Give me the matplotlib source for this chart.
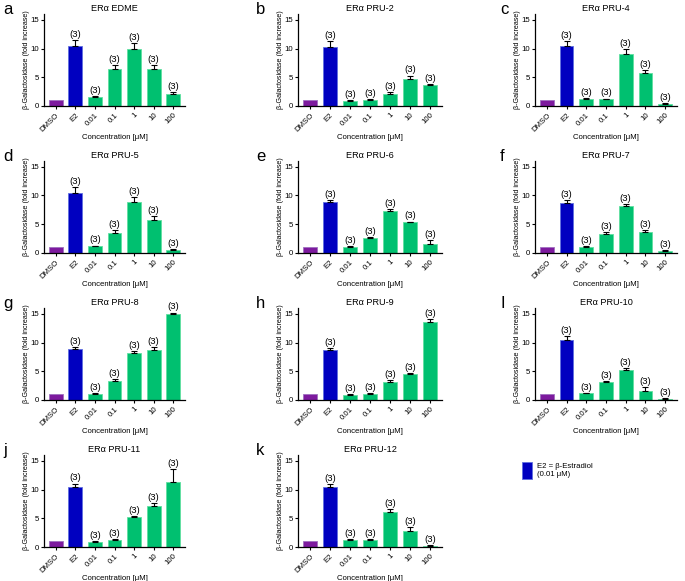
import numpy as np
import matplotlib
matplotlib.use("Agg")
import matplotlib.pyplot as plt

plt.rcParams['font.family'] = ['Liberation Sans', 'DejaVu Sans']

categories = ["DMSO", "E2", "0.01", "0.1", "1", "10", "100"]
n_label = "(3)"

letters = ["a", "b", "c", "d", "e", "f", "g", "h", "I", "j", "k"]
titles = ["ERα EDME", "ERα PRU-2", "ERα PRU-4", "ERα PRU-5", "ERα PRU-6",
          "ERα PRU-7", "ERα PRU-8", "ERα PRU-9", "ERα PRU-10",
          "ERα PRU-11", "ERα PRU-12"]

means_a = [1, 10.4, 1.5, 6.4, 9.9, 6.5, 2.1]
errs_a = [0, 1.0, 0.2, 0.7, 1.0, 0.65, 0.25]
means_b = [1, 10.3, 0.9, 1.07, 2.05, 4.75, 3.6]
errs_b = [0, 1.0, 0.1, 0.15, 0.3, 0.55, 0.25]
means_c = [1, 10.4, 1.3, 1.14, 9.0, 5.7, 0.28]
errs_c = [0, 0.95, 0.13, 0.15, 0.9, 0.5, 0.17]
means_d = [1, 10.35, 1.15, 3.5, 8.8, 5.8, 0.46]
errs_d = [0, 1.05, 0.15, 0.45, 0.95, 0.58, 0.22]
means_e = [1, 8.8, 1.09, 2.6, 7.36, 5.34, 1.6]
errs_e = [0, 0.45, 0.1, 0.2, 0.25, 0.12, 0.7]
means_f = [1, 8.75, 1.08, 3.3, 8.1, 3.7, 0.4]
errs_f = [0, 0.45, 0.12, 0.3, 0.45, 0.35, 0.17]
means_g = [1, 8.84, 1.05, 3.26, 8.14, 8.78, 14.94]
errs_g = [0, 0.35, 0.1, 0.34, 0.35, 0.4, 0.26]
means_h = [1, 8.77, 0.92, 1.1, 3.1, 4.44, 13.5]
errs_h = [0, 0.33, 0.08, 0.17, 0.36, 0.3, 0.6]
means_i = [1, 10.5, 1.15, 3.1, 5.14, 1.6, 0.23]
errs_i = [0, 0.58, 0.06, 0.2, 0.36, 0.6, 0.07]
means_j = [1, 10.46, 0.92, 1.26, 5.17, 7.07, 11.38]
errs_j = [0, 0.57, 0.11, 0.12, 0.17, 0.63, 2.2]
means_k = [1, 10.38, 1.25, 1.25, 6.16, 2.74, 0.23]
errs_k = [0, 0.57, 0.12, 0.12, 0.51, 0.8, 0.11]

all_means = [means_a, means_b, means_c, means_d, means_e, means_f,
             means_g, means_h, means_i, means_j, means_k]
all_errs = [errs_a, errs_b, errs_c, errs_d, errs_e, errs_f,
            errs_g, errs_h, errs_i, errs_j, errs_k]

colors = ["#7d1a9e", "#0000c0"] + ["#00c070"] * 5
edges = ["#a070c0", "#6070e0"] + ["#60e0a0"] * 5

W, H = 685, 581
fig = plt.figure(figsize=(W / 100, H / 100), dpi=100)

# axes boxes in pixels
col_x = [(44, 185), (298, 442), (535, 677)]
row_bottom = [106, 253, 400, 547]
ax_h = 92
letter_x = [3, 256, 500]

for idx in range(11):
    r, c = divmod(idx, 3)
    x0, x1 = col_x[c]
    yb = row_bottom[r]
    ax = fig.add_axes([x0 / W, 1 - yb / H, (x1 - x0) / W, ax_h / H])
    x = np.arange(len(categories))
    m = np.array(all_means[idx])
    e = np.array(all_errs[idx])
    ax.bar(x, m, width=0.7, color=colors, edgecolor=edges, linewidth=0.6, zorder=2)
    ax.errorbar(x[1:], m[1:], yerr=[np.zeros(6), e[1:]], fmt="none",
                ecolor="black", elinewidth=0.8, capsize=2.2, capthick=0.8, zorder=3)
    for xi, top in zip(x[1:], (m + e)[1:]):
        ax.annotate(n_label, (xi, top), xytext=(0, 0.8), textcoords="offset points",
                    ha="center", va="bottom", fontsize=6.8)
    ax.set_xlim(-0.6, 6.6)
    ax.set_ylim(0, 16)
    ax.set_yticks([0, 5, 10, 15])
    ax.set_xticks(x)
    ax.set_xticklabels(categories, rotation=45, ha="right", rotation_mode="anchor",
                       fontsize=5.6)
    ax.tick_params(axis="y", labelsize=5.6, length=2.5, width=0.8, pad=1)
    ax.tick_params(axis="x", length=2.5, width=0.8, pad=1.5)
    for s in ["top", "right"]:
        ax.spines[s].set_visible(False)
    for s in ["left", "bottom"]:
        ax.spines[s].set_linewidth(0.9)
    ax.set_ylabel("β-Galactosidase (fold increase)", fontsize=5.1, labelpad=0.5)
    ax.set_xlabel("Concentration [μM]", fontsize=5.6, labelpad=0.5)
    ax.set_title(titles[idx], fontsize=6.6, pad=2.5)
    fig.text(letter_x[c] / W, 1 - (row_bottom[r] - 104) / H, letters[idx],
             fontsize=12, ha="left", va="top")

# legend for E2
fig.patches.append(plt.Rectangle((522 / W, 1 - 479 / H), 10 / W, 17 / H,
                                 transform=fig.transFigure, facecolor="#0000c0",
                                 edgecolor="#6070e0", linewidth=0.6))
fig.text(537 / W, 1 - 463 / H, "E2 = β-Estradiol\n(0.01 μM)", fontsize=5.6,
         ha="left", va="top", linespacing=1.3)

fig.savefig("out.png", dpi=100)
